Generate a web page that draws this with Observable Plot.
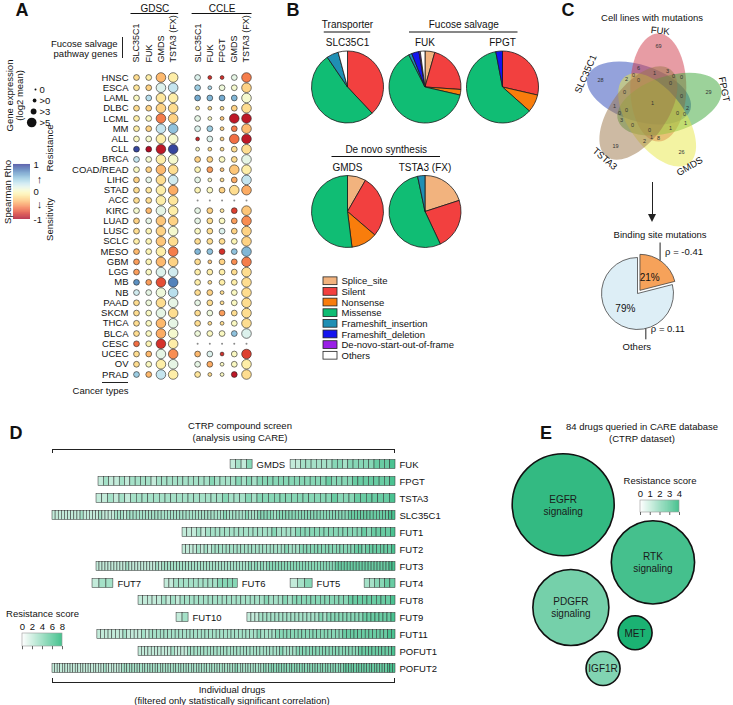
<!DOCTYPE html>
<html>
<head>
<meta charset="utf-8">
<script src="https://cdn.jsdelivr.net/npm/d3@7"></script>
<script src="https://cdn.jsdelivr.net/npm/@observablehq/plot@0.6"></script>
<style>
html,body{margin:0;padding:0;background:#fff;}
#fig{position:relative;width:733px;height:705px;overflow:hidden;background:#fff;font-family:"Liberation Sans",Arial,Helvetica,sans-serif;color:#111;}
#fig svg{position:absolute;left:0;top:0;max-width:none;}
.t{position:absolute;white-space:nowrap;line-height:1.1;}
.ln{position:absolute;background:#222;}
</style>
</head>
<body>
<div id="fig"></div>
<script>
// ================= DATA =================
const cancerTypes = ["HNSC","ESCA","LAML","DLBC","LCML","MM","ALL","CLL","BRCA","COAD/READ","LIHC","STAD","ACC","KIRC","LUAD","LUSC","SCLC","MESO","GBM","LGG","MB","NB","PAAD","SKCM","THCA","BLCA","CESC","UCEC","OV","PRAD"];
const gdscGenes = ["SLC35C1","FUK","GMDS","TSTA3 (FX)"];
const ccleGenes = ["SLC35C1","FUK","FPGT","GMDS","TSTA3 (FX)"];
const exprClasses = ["0", ">0", ">3", ">5"];
const gdscRho = [
 [-0.2,-0.1,-0.35,-0.1],[-0.15,-0.25,0.2,0.3],[0,0.35,-0.15,-0.1],[-0.2,-0.25,-0.25,-0.2],[-0.1,0,-0.55,-0.25],
 [-0.1,-0.25,0.3,0.5],[0,0.05,-0.1,0.05],[0.95,-0.95,-0.9,0.95],[0.3,0.05,-0.1,0.05],[0,-0.25,-0.35,-0.2],
 [-0.25,0.15,-0.2,0.25],[-0.2,-0.15,-0.1,-0.4],[-0.2,-0.2,-0.1,-0.15],[0.05,-0.35,0.15,-0.1],[-0.25,0.15,-0.3,-0.25],
 [-0.2,-0.05,-0.25,0.05],[-0.1,-0.05,-0.3,-0.2],[-0.35,-0.05,-0.1,-0.55],[-0.45,-0.05,-0.35,-0.25],[-0.45,0,0.2,0.25],
 [0.7,-0.45,-0.7,0.75],[0.25,0.15,0.1,0.35],[-0.2,0.1,-0.2,0.15],[-0.2,0,0.15,-0.2],[-0.2,0,-0.35,0.15],
 [-0.2,0,-0.4,0.05],[-0.6,-0.05,-0.8,-0.1],[-0.2,-0.35,0.15,-0.5],[-0.2,0,-0.1,0.15],[0.45,-0.35,0.3,-0.1]
];
const gdscExpr = [
 [2,2,3,3],[2,2,3,3],[2,2,3,3],[2,2,3,3],[2,2,3,3],[2,2,3,3],[2,2,3,3],[2,2,3,3],[2,2,3,3],[2,2,3,3],
 [2,2,3,3],[2,2,3,3],[2,2,3,3],[2,2,3,3],[2,2,3,3],[2,2,3,3],[2,2,3,3],[2,2,3,3],[2,2,3,3],[2,2,3,3],
 [2,2,3,3],[2,2,3,3],[2,2,3,3],[2,2,3,3],[2,2,3,3],[2,2,3,3],[2,2,3,3],[2,2,3,3],[2,2,3,3],[2,2,3,3]
];
const ccleRho = [
 [0.2,-0.8,-0.8,0.15,-0.55],[0.45,0.4,0.1,0.05,-0.25],[0.6,0.55,0.6,0.55,0.05],[-0.1,-0.2,-0.2,-0.25,-0.2],[0.15,0,-0.3,-0.9,-0.9],
 [0.2,0.45,-0.25,-0.55,-0.35],[-0.85,0.2,-0.25,-0.6,-0.9],[0,-0.2,-0.2,-0.2,-0.2],[-0.25,-0.25,0,-0.2,0.15],[-0.05,-0.45,-0.3,-0.3,-0.1],
 [0.15,0,-0.2,-0.4,0.3],[-0.05,0,-0.25,-0.2,-0.4],[null,null,null,null,null],[0.15,-0.25,-0.15,-0.75,-0.3],[0.15,-0.2,0,-0.45,-0.5],
 [0,-0.2,0.2,-0.25,-0.25],[-0.2,-0.2,-0.2,-0.05,-0.25],[0.55,0.5,-0.8,0.5,0.55],[-0.2,-0.3,-0.25,-0.5,-0.55],[-0.1,-0.1,-0.1,-0.2,-0.2],
 [-0.1,-0.2,-0.1,-0.1,-0.2],[-0.2,-0.25,-0.2,0,-0.2],[0.15,-0.2,-0.2,0,-0.2],[-0.2,0.1,-0.45,-0.2,-0.2],[-0.2,-0.2,-0.2,0,-0.2],
 [0.1,0,0,0.5,0.2],[null,null,null,null,null],[-0.35,0.2,-0.8,0,-0.75],[0.15,-0.4,0,0,-0.1],[-0.15,-0.2,0,-0.9,-0.2]
];
const ccleExpr = [
 [2,1,1,2,3],[2,1,2,2,3],[2,2,2,2,3],[1,1,1,2,3],[2,1,1,3,3],[2,2,1,2,3],[1,2,1,3,3],[1,1,1,2,3],[2,2,2,2,3],[2,2,1,3,3],
 [2,1,1,2,3],[2,2,2,3,3],[0,0,0,0,0],[2,2,1,2,3],[2,2,2,2,3],[2,2,2,2,3],[2,2,2,2,3],[2,2,2,2,3],[2,1,2,2,3],[2,2,2,2,3],
 [2,1,2,2,3],[2,2,1,2,3],[2,2,1,2,3],[2,2,2,2,3],[2,1,1,2,3],[2,2,2,2,3],[0,0,0,0,0],[2,2,1,2,3],[2,2,1,2,3],[2,1,1,2,3]
];
const mutationTypes = ["Splice_site","Silent","Nonsense","Missense","Frameshift_insertion","Frameshift_deletion","De-novo-start-out-of-frame","Others"];
const pieGenes = ["SLC35C1","FUK","FPGT","GMDS","TSTA3 (FX)"];
const pieGroups = ["Transporter","Fucose salvage","Fucose salvage","De novo synthesis","De novo synthesis"];
const mutSLC35C1 = [0, 38, 0, 52.5, 5.3, 0, 0, 4.2];
const mutFUK = [4.4, 21.7, 2.5, 64, 1.4, 3.3, 0.6, 2.1];
const mutFPGT = [0, 28.6, 8, 60.4, 0, 3, 0, 0];
const mutGMDS = [8.3, 28, 11.7, 52, 0, 0, 0, 0];
const mutTSTA3 = [20, 23, 0, 53.7, 3.3, 0, 0, 0];
const vennSets = ["SLC35C1","FUK","FPGT","GMDS","TSTA3"];
const vennSingleCounts = [28, 69, 29, 26, 19];
const vennRegionSets = [
 "SLC35C1&FUK","FUK&FPGT","FPGT&GMDS","GMDS&TSTA3","SLC35C1&TSTA3",
 "SLC35C1&GMDS","FUK&TSTA3","SLC35C1&FPGT","FUK&GMDS","FPGT&TSTA3",
 "SLC35C1&GMDS&TSTA3","SLC35C1&FUK&TSTA3","SLC35C1&FUK&FPGT","FUK&FPGT&GMDS","FPGT&GMDS&TSTA3",
 "SLC35C1&FUK&GMDS","FUK&FPGT&TSTA3","SLC35C1&FPGT&GMDS","FUK&GMDS&TSTA3","SLC35C1&FPGT&TSTA3",
 "SLC35C1&FUK&GMDS&TSTA3","SLC35C1&FUK&FPGT&TSTA3","SLC35C1&FUK&FPGT&GMDS","SLC35C1&FPGT&GMDS&TSTA3","FUK&FPGT&GMDS&TSTA3",
 "SLC35C1&FUK&FPGT&GMDS&TSTA3"
];
const vennRegionCounts = [6,0,1,2,1, 2,3,2,8,3, 0,1,0,1,0, 0,0,0,1,0, 0,0,0,0,0, 1];
const bindingCategories = ["Binding site mutations","Others"];
const bindingShares = [21, 79];
const bindingRho = [-0.41, 0.11];
const rowGenes = ["FUK","FPGT","TSTA3","SLC35C1","FUT1","FUT2","FUT3","FUT4","FUT8","FUT9","FUT11","POFUT1","POFUT2"];
const segGenes = ["GMDS","FUK","FPGT","TSTA3","SLC35C1","FUT1","FUT2","FUT3","FUT7","FUT6","FUT5","FUT4","FUT8","FUT10","FUT9","FUT11","POFUT1","POFUT2"];
const segRows  = ["FUK","FUK","FPGT","TSTA3","SLC35C1","FUT1","FUT2","FUT3","FUT4","FUT4","FUT4","FUT4","FUT8","FUT9","FUT9","FUT11","POFUT1","POFUT2"];
const segFirstRank = [62.3,83.3,16.1,15.4,0,45.5,45.5,15.4,14,39.2,83.3,109.2,30.1,43.4,68.2,15.7,30.1,0];
const segLastRank  = [70,120,120,120,120,120,120,120,21.3,64.8,91,120,120,47.6,120,120,120,120];
const segScores = [
 "2324",
 "22333333443444445556",
 "23223233332333333333343333434344444444444445444455555556",
 "2232323333333333333333433343444444444444454445555556",
 "22222222232222232222333233333333333333333333333333333334333333433344444344444444444444444444444555555555555566",
 "222323333333333333343333444444444444445455556",
 "2222323233333333333333333333433344444444444444455455555556",
 "2222222222322222222232333333333333333333333333333334343434444444444444444444444455555555555555555566",
 "233",
 "223333333334444",
 "234",
 "334455",
 "2222232323333333333333333334333434444444444445555555556",
 "23",
 "2223333333333333334344444444455555556",
 "22222223222232333333333333333333333333333334333344444444444444444455555555555566",
 "222222222232222333333333333333333333333333343333444444444444444444455555555556",
 "2222222222222222222232222223333333333333333333333333333333333333333333343333333333434444444444444444444444444444455555555555555555666"
];
const pathways = ["EGFR signaling","RTK signaling","PDGFR signaling","MET","IGF1R"];
const pathwayDrugCounts = [9, 6, 5, 1, 1];
const pathwayResistance = [3.4, 3.1, 2.3, 3.8, 2.1];

// ================= STYLE =================
const FONT = '"Liberation Sans", Arial, Helvetica, sans-serif';
const mutationColors = ["#f2b37e","#f2403f","#f97d0c","#10bd74","#1f8fb4","#1414ee","#9a1fe6","#ffffff"];
const vennColors = ["#2a45b8","#cf3a4a","#3aa535","#e8e845","#9c7548"];
const bindingColors = ["#f6a25a","#ddeef6"];
const greenRange = ["#ffffff","#0fae6c"];
const exprRadius = [1, 1.9, 2.9, 4.8];

const fig = document.getElementById("fig");
const base = {width: 733, height: 705, margin: 0,
  style: {background: "transparent", overflow: "visible", fontFamily: FONT, fontSize: "10px", color: "#111"}};
function add(p) { fig.appendChild(p); return p; }
function label(text, x, y, o = {}) {
  const {anchor = "middle", size = 10, weight = "normal"} = o;
  const el = document.createElement("div");
  el.className = "t"; el.textContent = text;
  el.style.left = x + "px"; el.style.top = y + "px";
  el.style.fontSize = size + "px"; el.style.fontWeight = weight;
  const tx = anchor === "middle" ? "-50%" : anchor === "end" ? "-100%" : "0";
  el.style.transform = `translate(${tx},-50%)`;
  fig.appendChild(el);
}
function line(x, y, w, h) {
  const el = document.createElement("div");
  el.className = "ln";
  Object.assign(el.style, {left: x + "px", top: y + "px", width: w + "px", height: h + "px"});
  fig.appendChild(el);
}

// ================= PANEL A =================
const colIndex = (ds, i) => ds === "GDSC" ? i : gdscGenes.length + 1 + i;
const columnsA = [
  ...gdscGenes.map((g, i) => ({dataset: "GDSC", gene: g, col: colIndex("GDSC", i)})),
  ...ccleGenes.map((g, i) => ({dataset: "CCLE", gene: g, col: colIndex("CCLE", i)}))
];
const cellsA = cancerTypes.flatMap((t, r) => [
  ...gdscGenes.map((g, i) => ({type: t, col: colIndex("GDSC", i), rho: gdscRho[r][i], expr: gdscExpr[r][i]})),
  ...ccleGenes.map((g, i) => ({type: t, col: colIndex("CCLE", i), rho: ccleRho[r][i], expr: ccleExpr[r][i]}))
]);
const groupsA = d3.groups(columnsA, d => d.dataset).map(([name, cs]) => ({name, from: d3.min(cs, c => c.col), to: d3.max(cs, c => c.col)}));
const firstType = () => cancerTypes[0];
const lastType = () => cancerTypes[cancerTypes.length - 1];

add(Plot.plot({...base,
  x: {domain: [0, 9], range: [136, 246], axis: null},
  y: {type: "point", domain: cancerTypes, range: [77, 374], padding: 0, round: false, axis: null},
  color: {type: "linear", domain: [-1, 1], scheme: "RdYlBu"},
  marks: [
    ...exprRadius.map((rad, k) => Plot.dot(cellsA.filter(d => d.expr === k && d.rho != null),
      {x: "col", y: "type", r: rad, fill: "rho", stroke: "#222", strokeWidth: 0.6})),
    Plot.dot(cellsA.filter(d => d.rho == null), {x: "col", y: "type", r: exprRadius[0], fill: "#8a8a8a"}),
    Plot.text(cancerTypes, {x: 0, y: d => d, dx: -8, textAnchor: "end", fontSize: 9.5}),
    Plot.text(columnsA, {x: "col", y: firstType, dy: -15, rotate: -90, textAnchor: "start", text: "gene", fontSize: 9}),
    Plot.text(groupsA, {x: d => (d.from + d.to) / 2, y: firstType, dy: -69, text: "name", fontSize: 10}),
    Plot.ruleY(groupsA, {y: firstType, x1: d => d.from - 0.45, x2: d => d.to + 0.45, dy: -64, stroke: "#111", strokeWidth: 1.1}),
    Plot.text(["Fucose salvage\npathway genes"], {x: 0, y: firstType, dx: -19, dy: -29, textAnchor: "end", lineHeight: 1.15, fontSize: 9.5}),
    Plot.text(["Cancer types"], {x: 0, y: lastType, dx: -8, dy: 16, textAnchor: "end", fontSize: 9.5})
  ]
}));
line(121.5, 37, 1.2, 21);
line(102, 381.5, 26, 1.6);

add(Plot.plot({...base,
  x: {domain: [0, 1], range: [36, 37], axis: null},
  y: {type: "point", domain: exprClasses, range: [89, 122], padding: 0, round: false, axis: null},
  marks: [
    ...exprClasses.map((c, k) => Plot.dot([c], {x: 0, y: d => d, r: exprRadius[k], dx: -exprRadius[k], fill: "#111"})),
    Plot.text(exprClasses, {x: 0, y: d => d, dx: 3, textAnchor: "start", fontSize: 9.5}),
    Plot.text(["Gene expression"], {x: 0, y: () => exprClasses[1], dx: -27, dy: -5, rotate: -90, fontSize: 9.5}),
    Plot.text(["(log2 mean)"], {x: 0, y: () => exprClasses[1], dx: -17, dy: -5, rotate: -90, fontSize: 9.5})
  ]
}));

const rhoSteps = d3.range(-1, 1, 0.02);
add(Plot.plot({...base,
  x: {domain: [0, 1], range: [13, 30], axis: null},
  y: {domain: [-1, 1], range: [219, 164], axis: null},
  color: {type: "linear", domain: [-1, 1], scheme: "RdYlBu"},
  marks: [
    Plot.rect(rhoSteps, {x1: 0, x2: 1, y1: d => d, y2: d => d + 0.021, fill: d => d + 0.01}),
    Plot.text([1, 0, -1], {x: 1, y: d => d, dx: 3, textAnchor: "start", fontSize: 9.5, text: d => String(d)}),
    Plot.text(["Spearman Rho"], {x: 0, y: 0, dx: -6, rotate: -90, fontSize: 9.5}),
    Plot.text(["Resistance"], {x: 1, y: 1.6, dx: 19, rotate: -90, fontSize: 9.5}),
    Plot.text(["Sensitivity"], {x: 1, y: -1.0, dx: 19, rotate: -90, fontSize: 9.5}),
    Plot.text(["\u2191"], {x: 1, y: 0.45, dx: 9, fontSize: 11}),
    Plot.text(["\u2193"], {x: 1, y: -0.45, dx: 9, fontSize: 11})
  ]
}));

// ================= PANEL B =================
function wedge(a0, a1) {
  return {draw(ctx, size) {
    const r = Math.sqrt(size / Math.PI);
    ctx.moveTo(0, 0);
    ctx.arc(0, 0, r, a0 - Math.PI / 2, a1 - Math.PI / 2);
    ctx.closePath();
  }};
}
const pieValues = [mutSLC35C1, mutFUK, mutFPGT, mutGMDS, mutTSTA3];
const pieArc = d3.pie().sort(null).value(d => d);
const pieLayout = [];
{
  const rowCount = {};
  pieGenes.forEach((g, i) => {
    const row = pieGroups[i] === "De novo synthesis" ? 1 : 0;
    const col = rowCount[row] = (rowCount[row] ?? -1) + 1;
    pieLayout.push({gene: g, group: pieGroups[i], row, col, values: pieValues[i]});
  });
}
const groupsB = d3.groups(pieLayout, d => d.group).map(([name, ps]) => ({name, row: ps[0].row, from: d3.min(ps, p => p.col), to: d3.max(ps, p => p.col)}));
const wedgeMarks = pieLayout.flatMap(p => pieArc(p.values).filter(a => a.value > 0).map(a =>
  Plot.dot([p], {x: "col", y: "row", r: 36, symbol: wedge(a.startAngle, a.endAngle),
    fill: mutationColors[a.index], stroke: "#1a1a1a", strokeWidth: 0.8})));
add(Plot.plot({...base,
  x: {domain: [0, 2], range: [347, 502], axis: null},
  y: {domain: [0, 1], range: [86.5, 211], axis: null},
  marks: [
    ...wedgeMarks,
    Plot.text(pieLayout, {x: "col", y: "row", text: "gene", dy: -44, fontSize: 10}),
    Plot.text(groupsB, {x: d => (d.from + d.to) / 2, y: "row", text: "name", dy: -62, fontSize: 10}),
    Plot.ruleY(groupsB, {y: "row", x1: d => d.from - (d.from === d.to ? 0.3 : 0.2), x2: d => d.to + (d.from === d.to ? 0.3 : 0.2), dy: -55, stroke: "#111", strokeWidth: 1.1})
  ]
}));
add(Plot.plot({...base,
  x: {type: "band", domain: ["s"], range: [323, 337], padding: 0, round: false, axis: null},
  y: {type: "band", domain: mutationTypes, range: [274, 362], padding: 0.27, round: false, axis: null},
  color: {type: "ordinal", domain: mutationTypes, range: mutationColors},
  marks: [
    Plot.cell(mutationTypes, {x: () => "s", y: d => d, fill: d => d, stroke: "#222", strokeWidth: 0.8}),
    Plot.text(mutationTypes, {x: () => "s", y: d => d, dx: 11, textAnchor: "start", fontSize: 9.5})
  ]
}));

// ================= PANEL C =================
const vennA = 54, vennB = 28, vennOffset = 17, vennTilt = -20, vennStart = -142;
const vennCX = 652, vennCY = 103;
const ells = vennSets.map((s, k) => {
  const phi = (vennStart + 72 * k) * Math.PI / 180;
  return {set: s, k, cx: vennOffset * Math.cos(phi), cy: vennOffset * Math.sin(phi), a: vennA, b: vennB, rot: phi + vennTilt * Math.PI / 180};
});
function insideMask(x, y) {
  let mask = 0, score = Infinity;
  ells.forEach((e, i) => {
    const dx = x - e.cx, dy = y - e.cy, c = Math.cos(e.rot), s = Math.sin(e.rot);
    const u = dx * c + dy * s, v = -dx * s + dy * c;
    const F = (u / e.a) ** 2 + (v / e.b) ** 2;
    if (F < 1) mask |= 1 << i;
    const g = 2 * Math.hypot(u / (e.a * e.a), v / (e.b * e.b));
    score = Math.min(score, g > 1e-9 ? Math.abs(F - 1) / g : e.b);
  });
  return {mask, score};
}
const regionBest = new Map();
for (let x = -100; x <= 100; x += 1) for (let y = -100; y <= 100; y += 1) {
  const {mask, score} = insideMask(x, y);
  if (!mask) continue;
  const cur = regionBest.get(mask);
  if (!cur || score > cur.score) regionBest.set(mask, {x, y, score, mask});
}
const maskOf = names => names.split("&").reduce((m, n) => m | (1 << vennSets.indexOf(n)), 0);
const vennCounts = [
  ...vennSets.map((s, i) => ({mask: 1 << i, count: vennSingleCounts[i]})),
  ...vennRegionSets.map((s, i) => ({mask: maskOf(s), count: vennRegionCounts[i]}))
].filter(d => regionBest.has(d.mask)).map(d => ({...d, x: regionBest.get(d.mask).x, y: regionBest.get(d.mask).y}));
const setLabels = vennSets.map((s, k) => {
  const p = regionBest.get(1 << k);
  const psi = Math.atan2(p.y, p.x);
  let R = 0;
  for (let t = 0; t < 130; t += 0.5) if (insideMask(t * Math.cos(psi), t * Math.sin(psi)).mask) R = t;
  let deg = psi * 180 / Math.PI + 90;
  if (deg > 180) deg -= 360;
  if (deg > 90) deg -= 180;
  if (deg < -90) deg += 180;
  return {name: s, x: (R + 3) * Math.cos(psi), y: (R + 3) * Math.sin(psi), rotate: deg};
});
function ellipseSymbol(ratio, rot) {
  const c = Math.cos(rot), s = Math.sin(rot), K = 0.5522847498;
  return {draw(ctx, size) {
    const a = Math.sqrt(size / Math.PI), b = a * ratio;
    const P = (x, y) => [x * c - y * s, x * s + y * c];
    ctx.moveTo(...P(a, 0));
    ctx.bezierCurveTo(...P(a, K * b), ...P(K * a, b), ...P(0, b));
    ctx.bezierCurveTo(...P(-K * a, b), ...P(-a, K * b), ...P(-a, 0));
    ctx.bezierCurveTo(...P(-a, -K * b), ...P(-K * a, -b), ...P(0, -b));
    ctx.bezierCurveTo(...P(K * a, -b), ...P(a, -K * b), ...P(a, 0));
    ctx.closePath();
  }};
}
add(Plot.plot({...base,
  x: {domain: [-100, 100], range: [vennCX - 100, vennCX + 100], axis: null},
  y: {domain: [-100, 100], range: [vennCY - 100, vennCY + 100], axis: null},
  marks: [
    ...ells.map((e, i) => Plot.dot([e], {x: "cx", y: "cy", r: e.a, symbol: ellipseSymbol(e.b / e.a, e.rot),
      fill: vennColors[i], fillOpacity: 0.5, stroke: "none"})),
    Plot.text(vennCounts, {x: "x", y: "y", text: d => String(d.count), fontSize: 5.5, fill: "#333"}),
    Plot.text(setLabels, {x: "x", y: "y", text: "name", rotate: "rotate", fontSize: 9.5})
  ]
}));

const bindArcs = d3.pie().sort(null)(bindingShares).map((a, i) => {
  const mid = (a.startAngle + a.endAngle) / 2, ex = i === 0 ? 4 : 0;
  return {cat: bindingCategories[i], share: bindingShares[i], rho: bindingRho[i], a0: a.startAngle, a1: a.endAngle, mid,
    dx: ex * Math.sin(mid), dy: -ex * Math.cos(mid)};
});
const annotFrac = [0.45, 0.32], annotLen = [-0.5, 0.3];
const annots = bindArcs.map((a, i) => {
  const ang = a.a0 + annotFrac[i] * (a.a1 - a.a0);
  const x = Math.sin(ang), y = -Math.cos(ang);
  return {...a, x1: x, y1: y, x2: x, y2: y + annotLen[i], up: annotLen[i] < 0};
});
add(Plot.plot({...base,
  x: {domain: [-1, 1], range: [601, 673], axis: null},
  y: {domain: [-1, 1], range: [257, 329], axis: null},
  marks: [
    ...bindArcs.map((a, i) => Plot.dot([a], {x: () => 0, y: () => 0, r: 36, dx: a.dx, dy: a.dy, symbol: wedge(a.a0, a.a1),
      fill: bindingColors[i], stroke: "#444", strokeWidth: 0.8})),
    Plot.text(bindArcs, {x: d => 0.55 * Math.sin(d.mid), y: d => -0.55 * Math.cos(d.mid), text: d => d.share + "%", fontSize: 10}),
    Plot.link(annots, {x1: d => d.x1 + d.dx / 36, y1: d => d.y1 + d.dy / 36, x2: d => d.x2 + d.dx / 36, y2: d => d.y2 + d.dy / 36, stroke: "#222", strokeWidth: 1}),
    Plot.text(annots, {x: d => d.x2 + d.dx / 36, y: d => (d.up ? (d.y1 + d.y2) / 2 : d.y1) + d.dy / 36, text: d => "\u03c1 = " + d.rho, textAnchor: "start", dx: 5, fontSize: 9.5}),
    Plot.text(annots.filter(d => d.up), {x: d => d.x2 + d.dx / 36, y: d => d.y2 + d.dy / 36, text: "cat", dy: -8, fontSize: 9.5}),
    Plot.text(annots.filter(d => !d.up), {x: d => d.x2, y: d => d.y2, text: "cat", dy: 8, dx: -9, fontSize: 9.5})
  ]
}));

// ================= PANEL D =================
const cellsD = segGenes.flatMap((g, s) => {
  const vals = segScores[s].split("").map(Number), n = vals.length;
  const w = (segLastRank[s] - segFirstRank[s]) / n;
  return vals.map((v, i) => ({row: segRows[s], x1: segFirstRank[s] + i * w, x2: segFirstRank[s] + (i + 1) * w, v}));
});
const segmentsD = segGenes.map((g, s) => ({gene: g, row: segRows[s], to: segLastRank[s]}));
add(Plot.plot({...base,
  x: {domain: [0, 120], range: [52, 395], axis: null},
  y: {type: "band", domain: rowGenes, range: [451.5, 680.5], padding: 0.47, round: false, axis: null},
  color: {type: "linear", domain: [0, 8], range: greenRange},
  marks: [
    Plot.barX(cellsD, {x1: "x1", x2: "x2", y: "row", fill: "v", stroke: "#2b2b2b", strokeWidth: 0.5}),
    Plot.text(segmentsD, {x: "to", y: "row", text: "gene", dx: 4, textAnchor: "start", fontSize: 9.5})
  ]
}));
const ticks8 = [0, 2, 4, 6, 8];
add(Plot.plot({...base,
  x: {domain: [0, 8], range: [22, 62], axis: null},
  y: {domain: [0, 1], range: [633, 646], axis: null},
  color: {type: "linear", domain: [0, 8], range: greenRange},
  marks: [
    Plot.rect(d3.range(0, 8, 0.1), {x1: d => d, x2: d => d + 0.105, y1: 0, y2: 1, fill: d => d + 0.05}),
    Plot.rect([0], {x1: 0, x2: 8, y1: 0, y2: 1, fill: "none", stroke: "#999", strokeWidth: 0.6}),
    Plot.ruleX(ticks8, {x: d => d, y1: 1, y2: 1.25, stroke: "#666"}),
    Plot.text(ticks8, {x: d => d, y: 0, dy: -7, fontSize: 9.5, text: d => String(d)}),
    Plot.text(["Resistance score"], {x: 4, y: 0, dy: -20, fontSize: 9.5})
  ]
}));

// ================= PANEL E =================
const rScaleE = d3.scaleSqrt().domain([0, 9]).range([0, 51]);
const packOrder = [2, 1, 0, 3, 4];
const packed = packOrder.map(i => ({i, r: rScaleE(pathwayDrugCounts[i]) + 7}));
d3.packSiblings(packed);
const theta = -28.8 * Math.PI / 180;
const bubbles = packed.map(p => {
  const x = p.x, y = -p.y;
  return {name: pathways[p.i], count: pathwayDrugCounts[p.i], score: pathwayResistance[p.i],
    x: x * Math.cos(theta) - y * Math.sin(theta), y: x * Math.sin(theta) + y * Math.cos(theta)};
});
add(Plot.plot({...base,
  x: {domain: [-100, 100], range: [478.6, 678.6], axis: null},
  y: {domain: [-100, 100], range: [469.6, 669.6], axis: null},
  r: {type: "sqrt", domain: [0, 9], range: [0, 51]},
  color: {type: "linear", domain: [0, 4], range: greenRange},
  marks: [
    Plot.dot(bubbles, {x: "x", y: "y", r: "count", fill: "score", stroke: "#111", strokeWidth: 1.6}),
    Plot.text(bubbles, {x: "x", y: "y", text: d => d.name.replace(" ", "\n"), fontSize: 10, lineHeight: 1.2, fill: "#1a1a1a"})
  ]
}));
const ticks4 = [0, 1, 2, 3, 4];
add(Plot.plot({...base,
  x: {domain: [0, 4], range: [640, 679], axis: null},
  y: {domain: [0, 1], range: [500, 512], axis: null},
  color: {type: "linear", domain: [0, 4], range: greenRange},
  marks: [
    Plot.rect(d3.range(0, 4, 0.05), {x1: d => d, x2: d => d + 0.053, y1: 0, y2: 1, fill: d => d + 0.025}),
    Plot.rect([0], {x1: 0, x2: 4, y1: 0, y2: 1, fill: "none", stroke: "#999", strokeWidth: 0.6}),
    Plot.ruleX(ticks4, {x: d => d, y1: 1, y2: 1.25, stroke: "#666"}),
    Plot.text(ticks4, {x: d => d, y: 0, dy: -7, fontSize: 9.5, text: d => String(d)}),
    Plot.text(["Resistance score"], {x: 2, y: 0, dy: -20, fontSize: 9.5})
  ]
}));

// ================= TITLES / LETTERS / BRACKETS =================
label("A", 22, 11, {size: 18, weight: "bold"});
label("B", 293, 11, {size: 18, weight: "bold"});
label("C", 568, 11, {size: 18, weight: "bold"});
label("D", 16, 434, {size: 18, weight: "bold"});
label("E", 546, 434, {size: 18, weight: "bold"});
label("Cell lines with mutations", 652, 18, {size: 9.5});
line(651.5, 182, 1.4, 34);
const ah = document.createElement("div");
Object.assign(ah.style, {position: "absolute", left: "648px", top: "214px", width: 0, height: 0,
  borderLeft: "4px solid transparent", borderRight: "4px solid transparent", borderTop: "8px solid #222"});
fig.appendChild(ah);
label("CTRP compound screen", 240, 426, {size: 9.5});
label("(analysis using CARE)", 240, 438, {size: 9.5});
line(52, 449, 343, 1.1); line(52, 449, 1.1, 4); line(394, 449, 1.1, 4);
line(52, 682, 343, 1.1); line(52, 678, 1.1, 4); line(394, 678, 1.1, 4);
label("Individual drugs", 232, 690, {size: 9.5});
label("(filtered only statistically significant correlation)", 232, 701, {size: 9.5});
label("84 drugs queried in CARE database", 642, 427, {size: 9.5});
label("(CTRP dataset)", 642, 439, {size: 9.5});
</script>
</body>
</html>
